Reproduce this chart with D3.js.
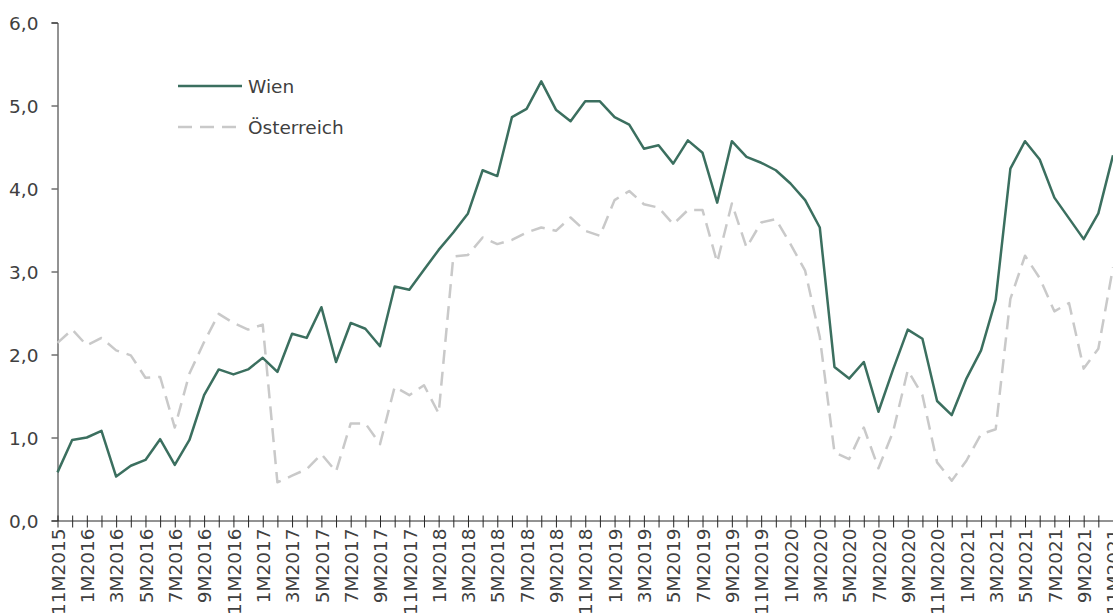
<!DOCTYPE html>
<html>
<head>
<meta charset="utf-8">
<script src="https://cdn.jsdelivr.net/npm/d3@7"></script>
<style>
    body { margin: 0; background: #fff; }
    svg { display: block; font-family: "DejaVu Sans", sans-serif; }
</style>
</head>
<body>
<div id="chart"></div>
<script>
// months 11/2015 .. 11/2021
const months = [];
for (let i = 0; i < 73; i++) {
    const m = (10 + i) % 12 + 1;
    const yr = 2015 + Math.floor((10 + i) / 12);
    months.push(m + 'M' + yr);
}
const wien = [0.58, 0.97, 1.00, 1.08, 0.53, 0.66, 0.73, 0.98, 0.67, 0.97,
    1.51, 1.82, 1.76, 1.82, 1.96, 1.79, 2.25, 2.20, 2.57, 1.91,
    2.38, 2.31, 2.10, 2.82, 2.78, 3.02, 3.26, 3.47, 3.70, 4.22,
    4.15, 4.86, 4.96, 5.29, 4.95, 4.81, 5.05, 5.05, 4.86, 4.77,
    4.48, 4.52, 4.30, 4.58, 4.43, 3.83, 4.57, 4.38, 4.31, 4.22,
    4.06, 3.86, 3.53, 1.85, 1.71, 1.91, 1.31, 1.82, 2.30, 2.19,
    1.44, 1.27, 1.71, 2.05, 2.66, 4.24, 4.57, 4.35, 3.89, 3.64,
    3.39, 3.70, 4.40];
const oesterreich = [2.14, 2.30, 2.11, 2.20, 2.05, 1.99, 1.72, 1.73, 1.12, 1.77,
    2.15, 2.49, 2.38, 2.30, 2.36, 0.46, 0.54, 0.62, 0.80, 0.59,
    1.17, 1.17, 0.92, 1.61, 1.51, 1.63, 1.29, 3.18, 3.20, 3.41,
    3.33, 3.38, 3.47, 3.53, 3.49, 3.65, 3.49, 3.43, 3.86, 3.97,
    3.81, 3.77, 3.57, 3.74, 3.74, 3.11, 3.82, 3.29, 3.59, 3.63,
    3.33, 3.01, 2.21, 0.82, 0.74, 1.12, 0.63, 1.07, 1.81, 1.51,
    0.70, 0.48, 0.72, 1.04, 1.10, 2.67, 3.19, 2.92, 2.52, 2.62,
    1.83, 2.07, 3.05];
const yTicks = [0, 1, 2, 3, 4, 5, 6];
const seriesNames = ['Wien', 'Österreich'];

const width = 1113, height = 614;
const margin = { left: 57.5, right: 1113, top: 22.5, bottom: 520.5 };
const textColor = '#404040';
const fontSize = '18.5px';

let svg = d3.select('#chart').append('svg').attr('width', width).attr('height', height);

let x = d3.scalePoint().domain(months).range([margin.left, margin.right]);
let y = d3.scaleLinear().domain([0, 6]).range([margin.bottom, margin.top]);

// y axis
let yAxis = svg.append('g').attr('transform', 'translate(' + margin.left + ',0)')
    .call(d3.axisLeft(y).tickValues(yTicks).tickSize(6).tickPadding(13)
        .tickFormat((d) => d3.format('.1f')(d).replace('.', ',')));
yAxis.select('.domain').attr('stroke', '#262626');
yAxis.selectAll('.tick line').attr('stroke', '#262626');
yAxis.selectAll('text').attr('fill', textColor).style('font-size', fontSize)
    .style('font-family', '"DejaVu Sans", sans-serif').attr('dy', '0.36em');

// x axis, ticks every month crossing the axis line, labels every second month
let xAxis = svg.append('g').attr('transform', 'translate(0,' + margin.bottom + ')')
    .call(d3.axisBottom(x).tickSize(7).tickSizeOuter(0)
        .tickFormat((d, i) => i % 2 === 0 ? d : ''));
xAxis.select('.domain').attr('stroke', '#262626');
xAxis.selectAll('.tick line').attr('stroke', '#262626').attr('y1', -5);
xAxis.selectAll('text').attr('fill', textColor).style('font-size', fontSize)
    .style('font-family', '"DejaVu Sans", sans-serif')
    .attr('transform', 'rotate(-90)').attr('text-anchor', 'end')
    .attr('x', -8).attr('y', 0).attr('dy', '0.36em');

let line = d3.line().x((d, i) => x(months[i])).y((d) => y(d));

svg.append('path').datum(oesterreich).attr('d', line)
    .attr('fill', 'none').attr('stroke', '#c9c9c9').attr('stroke-width', 2.5)
    .attr('stroke-dasharray', '14,8').attr('stroke-linejoin', 'round');

svg.append('path').datum(wien).attr('d', line)
    .attr('fill', 'none').attr('stroke', '#3b6f5f').attr('stroke-width', 2.5)
    .attr('stroke-linejoin', 'round');

// legend
let legend = svg.append('g').selectAll('g').data(seriesNames).enter().append('g')
    .attr('transform', (d, i) => 'translate(178,' + (86 + i * 41) + ')');
legend.append('line').attr('x1', 0).attr('x2', 64).attr('y1', 0).attr('y2', 0)
    .attr('stroke', (d, i) => i === 0 ? '#3b6f5f' : '#c9c9c9').attr('stroke-width', 2.5)
    .attr('stroke-dasharray', (d, i) => i === 0 ? null : '14,8');
legend.append('text').attr('x', 70).attr('y', 0).attr('dy', '0.36em')
    .attr('fill', textColor).style('font-size', fontSize).text((d) => d);
</script>
</body>
</html>
